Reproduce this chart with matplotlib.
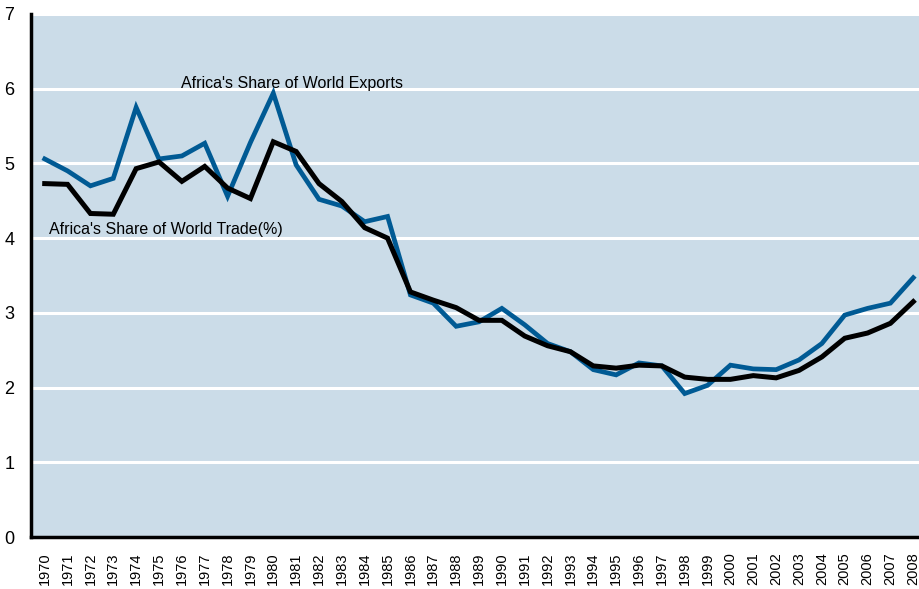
import matplotlib
matplotlib.use("Agg")
import matplotlib.pyplot as plt

years = list(range(1970, 2009))

# Africa's share of world exports (%)
exports = [5.06, 4.90, 4.70, 4.80, 5.75, 5.06, 5.10, 5.27, 4.56, 5.28,
           5.94, 4.98, 4.52, 4.43, 4.22, 4.29, 3.24, 3.13, 2.82, 2.88,
           3.06, 2.84, 2.59, 2.48, 2.24, 2.17, 2.33, 2.29, 1.92, 2.03,
           2.30, 2.25, 2.24, 2.37, 2.59, 2.97, 3.06, 3.13, 3.47]

# Africa's share of world trade (%)
trade = [4.73, 4.72, 4.33, 4.32, 4.93, 5.02, 4.76, 4.96, 4.67, 4.53,
         5.29, 5.16, 4.73, 4.49, 4.14, 4.00, 3.28, 3.17, 3.07, 2.90,
         2.90, 2.69, 2.56, 2.48, 2.29, 2.26, 2.30, 2.29, 2.14, 2.11,
         2.11, 2.16, 2.13, 2.23, 2.41, 2.66, 2.73, 2.86, 3.15]

plt.rcParams['font.family'] = ['Liberation Sans', 'DejaVu Sans']

fig = plt.figure(figsize=(9.19, 5.89), dpi=100)
ax = fig.add_axes([31 / 919, 52 / 589, 888 / 919, 523 / 589])
ax.set_facecolor('#cbdce8')

ax.plot(years, exports, color='#005a94', lw=3.4, solid_joinstyle='miter', zorder=3)
ax.plot(years, trade, color='black', lw=3.6, solid_joinstyle='miter', zorder=4)

ax.set_xlim(1969.40, 2008.25)
ax.set_ylim(0, 7)
ax.set_yticks(range(0, 8))
ax.set_xticks(years)
ax.set_xticklabels([str(y) for y in years], rotation=90, fontsize=10.5)
ax.tick_params(axis='y', length=0, pad=12, labelsize=13)
ax.tick_params(axis='x', length=0, pad=11)

ax.yaxis.grid(True, color='white', lw=2.2)
ax.set_axisbelow(True)
for s in ['top', 'right']:
    ax.spines[s].set_visible(False)
for s in ['left', 'bottom']:
    ax.spines[s].set_linewidth(2.5)
    ax.spines[s].set_color('black')

ax.text(1975.96, 6.07, "Africa's Share of World Exports", fontsize=11.5, va='center', ha='left')
ax.text(1970.17, 4.12, "Africa's Share of World Trade(%)", fontsize=11.5, va='center', ha='left')

fig.savefig('out.png', dpi=100)
